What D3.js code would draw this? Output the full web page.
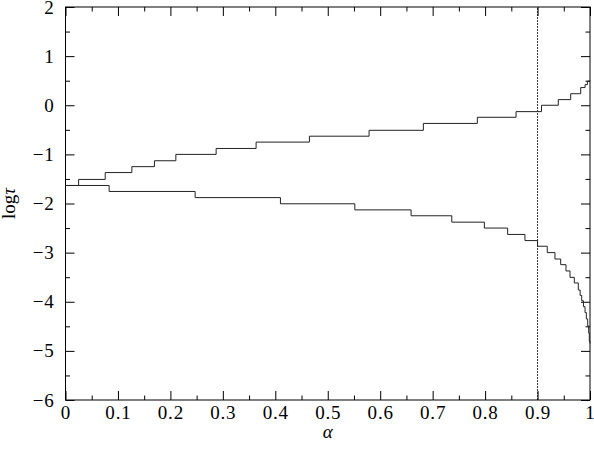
<!DOCTYPE html>
<html lang="en">
<head>
<meta charset="utf-8">
<title>log tau vs alpha</title>
<script src="https://cdn.jsdelivr.net/npm/d3@7"></script>
<style>
  body { margin: 0; background: #fff; }
  svg text { font-family: "Liberation Serif", "DejaVu Serif", serif; fill: #000; }
  .axis path { display: none; }
  .axis line { stroke: #000; stroke-width: 1; }
</style>
</head>
<body>
<script>
// upper branch: step points (alpha, log tau)
var upperAlpha = [0, 0.025, 0.0757, 0.1265, 0.1696, 0.2104, 0.2872, 0.3634, 0.465, 0.5788,
                  0.6823, 0.7852, 0.859, 0.9075, 0.9395, 0.9632, 0.9823, 0.9906, 0.995, 1.0];
var upperLog   = [-1.633, -1.51, -1.37, -1.25, -1.13, -1.0, -0.88, -0.75, -0.63, -0.51,
                  -0.37, -0.245, -0.13, 0.0, 0.115, 0.235, 0.36, 0.42, 0.49, 0.5];

// lower branch
var lowerAlpha = [0, 0.0832, 0.2472, 0.4098, 0.5516, 0.6589, 0.7365, 0.7986, 0.843, 0.876,
                  0.9, 0.9185, 0.9332, 0.9441, 0.9542, 0.9619, 0.9701, 0.9777, 0.9812, 0.9842,
                  0.9875, 0.9905, 0.993, 0.9956, 0.9975, 0.9987, 1.0];
var lowerLog   = [-1.633, -1.755, -1.88, -2.006, -2.13, -2.25, -2.38, -2.50, -2.63, -2.755,
                  -2.87, -3.0, -3.13, -3.245, -3.373, -3.504, -3.618, -3.761, -3.87, -3.98,
                  -4.1, -4.22, -4.35, -4.49, -4.64, -4.80, -4.85];

var cutAlpha = 0.9;

var xMajor = [0, 0.1, 0.2, 0.3, 0.4, 0.5, 0.6, 0.7, 0.8, 0.9, 1];
var xLabels = ["0", "0.1", "0.2", "0.3", "0.4", "0.5", "0.6", "0.7", "0.8", "0.9", "1"];
var xMinor = [0.05, 0.15, 0.25, 0.35, 0.45, 0.55, 0.65, 0.75, 0.85, 0.95];
var yMajor = [-6, -5, -4, -3, -2, -1, 0, 1, 2];
var yLabels = ["\u22126", "\u22125", "\u22124", "\u22123", "\u22122", "\u22121", "0", "1", "2"];
var yMinor = [-5.5, -4.5, -3.5, -2.5, -1.5, -0.5, 0.5, 1.5];

var w = 594, h = 449;
// (window.top is reserved, so the plot edges get their own names)
var padL = 65.5, padR = 590, padT = 7, padB = 400;

var svg = d3.select("body").append("svg")
    .attr("width", w)
    .attr("height", h);

var x = d3.scaleLinear().domain([0, 1]).range([padL, padR]);
var y = d3.scaleLinear().domain([-6, 2]).range([padB, padT]);

var major = 9, minor = 4.5;

// bottom / top axes (ticks pointing inward)
svg.append("g").attr("class", "axis")
    .attr("transform", "translate(0," + padB + ")")
    .call(d3.axisBottom(x).tickValues(xMajor).tickSize(-major)
        .tickFormat(function(d, i) { return xLabels[i]; }))
    .call(function(g) {
        g.selectAll("text").attr("y", 6).attr("dy", "0.71em")
            .style("font-size", "19px").style("letter-spacing", "0.8px");
    });
svg.append("g").attr("class", "axis")
    .attr("transform", "translate(0," + padB + ")")
    .call(d3.axisBottom(x).tickValues(xMinor).tickSize(-minor).tickFormat(""));
svg.append("g").attr("class", "axis")
    .attr("transform", "translate(0," + padT + ")")
    .call(d3.axisTop(x).tickValues(xMajor).tickSize(-major).tickFormat(""));
svg.append("g").attr("class", "axis")
    .attr("transform", "translate(0," + padT + ")")
    .call(d3.axisTop(x).tickValues(xMinor).tickSize(-minor).tickFormat(""));

// left / right axes
svg.append("g").attr("class", "axis")
    .attr("transform", "translate(" + padL + ",0)")
    .call(d3.axisLeft(y).tickValues(yMajor).tickSize(-major)
        .tickFormat(function(d, i) { return yLabels[i]; }))
    .call(function(g) {
        g.selectAll("text").attr("x", -11)
            .style("font-size", "19px").style("letter-spacing", "0.8px");
    });
svg.append("g").attr("class", "axis")
    .attr("transform", "translate(" + padL + ",0)")
    .call(d3.axisLeft(y).tickValues(yMinor).tickSize(-minor).tickFormat(""));
svg.append("g").attr("class", "axis")
    .attr("transform", "translate(" + padR + ",0)")
    .call(d3.axisRight(y).tickValues(yMajor).tickSize(-major).tickFormat(""));
svg.append("g").attr("class", "axis")
    .attr("transform", "translate(" + padR + ",0)")
    .call(d3.axisRight(y).tickValues(yMinor).tickSize(-minor).tickFormat(""));

// frame
svg.append("rect")
    .attr("x", padL).attr("y", padT)
    .attr("width", padR - padL).attr("height", padB - padT)
    .attr("fill", "none").attr("stroke", "#000").attr("stroke-width", 1);

// dotted vertical at alpha = 0.9
svg.append("line")
    .attr("x1", x(cutAlpha)).attr("x2", x(cutAlpha))
    .attr("y1", y(-6)).attr("y2", y(2))
    .attr("stroke", "#000").attr("stroke-width", 0.8)
    .attr("stroke-dasharray", "2,1");

var line = d3.line()
    .x(function(d) { return x(d[0]); })
    .y(function(d) { return y(d[1]); })
    .curve(d3.curveStepAfter);

svg.append("path")
    .datum(d3.zip(upperAlpha, upperLog))
    .attr("d", line)
    .attr("fill", "none").attr("stroke", "#222").attr("stroke-width", 1);

svg.append("path")
    .datum(d3.zip(lowerAlpha, lowerLog))
    .attr("d", line)
    .attr("fill", "none").attr("stroke", "#222").attr("stroke-width", 1);

// axis titles
svg.append("text")
    .attr("x", (padL + padR) / 2).attr("y", 438)
    .attr("text-anchor", "middle")
    .style("font-size", "19px").style("font-style", "italic")
    .text("\u03b1");

var yt = svg.append("text")
    .attr("transform", "translate(15," + ((padT + padB) / 2) + ") rotate(-90)")
    .attr("text-anchor", "middle")
    .style("font-size", "19px");
yt.append("tspan").text("log");
yt.append("tspan").style("font-style", "italic").text("\u03c4");
</script>
</body>
</html>
